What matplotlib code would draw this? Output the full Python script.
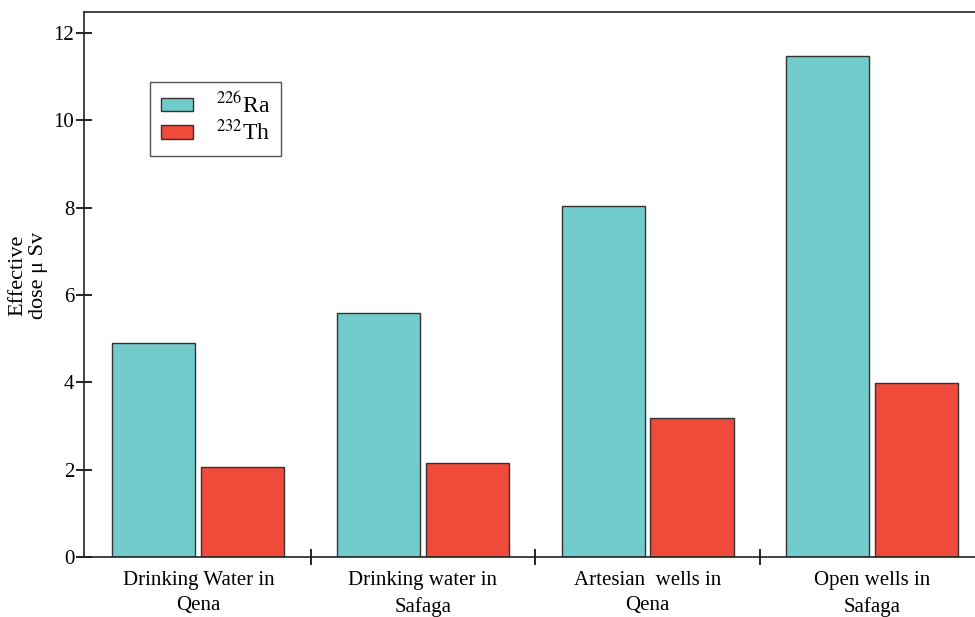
import numpy as np
import matplotlib
matplotlib.use('Agg')
import matplotlib.pyplot as plt

plt.rcParams['font.family'] = ['Liberation Serif', 'DejaVu Serif']
plt.rcParams['mathtext.fontset'] = 'stix'

# data
categories = ['Drinking Water in\nQena', 'Drinking water in\nSafaga',
              'Artesian  wells in\nQena', 'Open wells in\nSafaga']
ra226 = [4.90, 5.59, 8.04, 11.47]
th232 = [2.06, 2.15, 3.18, 3.98]

fig = plt.figure(figsize=(9.75, 6.17), dpi=100)
ax = fig.add_axes([84/975, 1-557/617, (975-84)/975, (557-12)/617])

x = np.arange(len(categories))
w = 0.37
off = 0.198
ax.bar(x-off, ra226, w, color='#70cbca', edgecolor='#333333', linewidth=1.0,
       label=r'$^{226}$Ra')
ax.bar(x+off, th232, w, color='#ef4a3a', edgecolor='#333333', linewidth=1.0,
       label=r'$^{232}$Th')

ax.set_xlim(-0.509, 3.458)
ax.set_ylim(0, 12.48)
ax.set_yticks([0, 2, 4, 6, 8, 10, 12])

# boundary ticks between groups, labels at group centres
ax.set_xticks([0.5, 1.5, 2.5])
ax.set_xticklabels([])
ax.set_xticks(x, minor=True)
ax.set_xticklabels(categories, minor=True, fontsize=15, linespacing=1.45)
ax.tick_params(axis='x', which='minor', length=0, pad=10)
ax.tick_params(axis='x', which='major', direction='inout', length=12, width=1.2)
ax.tick_params(axis='y', direction='inout', length=12, width=1.2, labelsize=15, pad=1)

for s in ['left', 'bottom', 'top']:
    ax.spines[s].set_linewidth(1.2)
    ax.spines[s].set_color('#222222')
ax.spines['right'].set_visible(False)

fig.text(28/975, 1-275/617, 'Effective\ndose \u03bc Sv', rotation=90,
         ha='center', va='center', fontsize=16, linespacing=1.15)

leg = ax.legend(loc='upper left', bbox_to_anchor=(150/975, 1-82/617),
                bbox_transform=fig.transFigure, borderaxespad=0,
                fancybox=False, edgecolor='#555555', fontsize=17,
                handlelength=1.36, handleheight=0.5, handletextpad=1.0,
                labelspacing=0.08, borderpad=0.45, framealpha=1)
leg.get_frame().set_linewidth(1.0)

fig.savefig('out.png', dpi=100)
